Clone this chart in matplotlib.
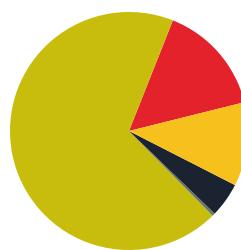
import matplotlib
matplotlib.use("Agg")
import matplotlib.pyplot as plt

# slice shares (percent), counterclockwise from the red slice
labels = ["red", "yellow", "sliver", "black", "orange"]
values = [15.1, 68.4, 0.4, 4.7, 11.4]
colors = ["#e4222c", "#c8bd0c", "#6a7866", "#1b2230", "#f6c11c"]

W, H = 241, 250
fig = plt.figure(figsize=(W / 100, H / 100), dpi=100)
fig.patch.set_facecolor("white")

# pie centre ~ (129, 131) px from top-left, radius ~119 px
cx, cy, r = 129, 131, 119
ax = fig.add_axes([(cx - r) / W, (H - cy - r) / H, 2 * r / W, 2 * r / H])
ax.pie(values, colors=colors, startangle=14, counterclock=True,
       wedgeprops=dict(linewidth=0))
ax.set_xlim(-1, 1)
ax.set_ylim(-1, 1)
ax.set_aspect("equal")
ax.axis("off")

fig.savefig("out.png", dpi=100, facecolor="white")
